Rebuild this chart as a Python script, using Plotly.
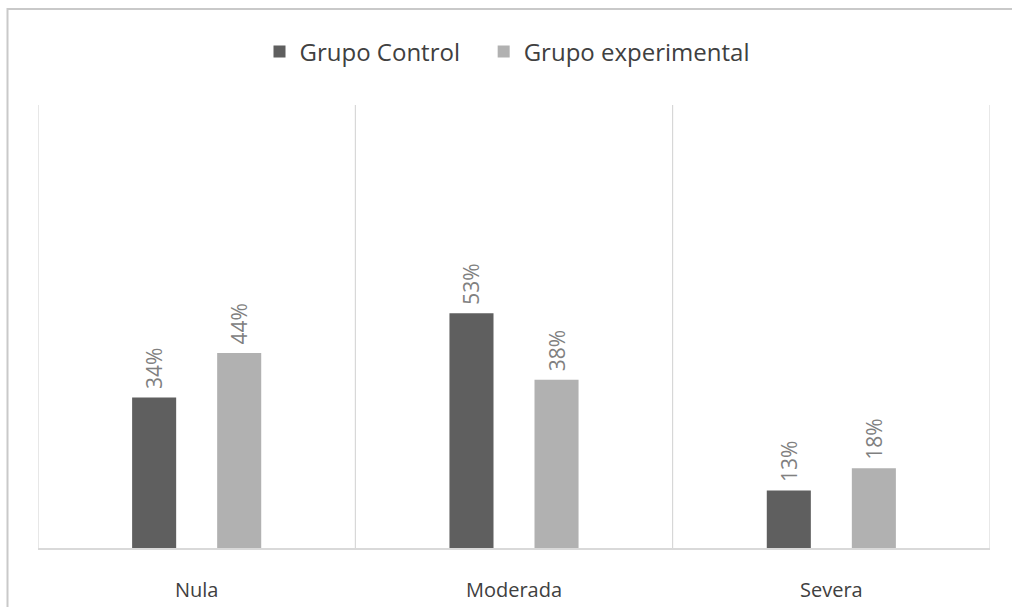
import plotly.graph_objects as go

# Chart data
categories = ["Nula", "Moderada", "Severa"]
grupo_control = [0.34, 0.53, 0.13]
grupo_experimental = [0.44, 0.38, 0.18]
series_names = ["Grupo Control", "Grupo experimental"]

W, H = 1012, 607
margin = dict(l=38, r=22, t=105, b=59)
plot_w = W - margin["l"] - margin["r"]
plot_h = H - margin["t"] - margin["b"]

FONT = "Open Sans"
DARK = "#5f5f5f"
LIGHT = "#b1b1b1"

fig = go.Figure()
for i, (name, vals, color) in enumerate([
    (series_names[0], grupo_control, DARK),
    (series_names[1], grupo_experimental, LIGHT),
]):
    # extra trailing no-break spaces widen the gap between legend entries
    legend_name = name + ("\u00a0" * 3 if i == 0 else "")
    fig.add_trace(go.Bar(
        name=legend_name,
        x=categories,
        y=vals,
        marker=dict(color=color, line=dict(width=0)),
        text=[f"{round(v * 100)}%" for v in vals],
        # leading no-break space lifts the rotated label off the bar top
        texttemplate="\u00a0%{text}",
        textposition="outside",
        textangle=-90,
        constraintext="none",
        cliponaxis=False,
        textfont=dict(family=FONT, size=21, color="#808080"),
    ))

# Vertical separators between categories
shapes = []
for xb in [-0.5, 0.5, 1.5, 2.5]:
    shapes.append(dict(type="line", xref="x", yref="paper", x0=xb, x1=xb,
                       y0=0, y1=1, line=dict(color="#d0d0d0", width=1), layer="below"))

# Outer frame (top and left edges visible)
left_px, top_px = 7.5, 9
px_x = (left_px - margin["l"]) / plot_w
px_y = (H - margin["b"] - top_px) / plot_h
shapes.append(dict(type="rect", xref="paper", yref="paper",
                   x0=px_x, x1=1.2, y0=-0.3, y1=px_y,
                   line=dict(color="#c9c9c9", width=2), fillcolor="rgba(0,0,0,0)"))

fig.update_layout(
    width=W, height=H,
    margin=margin,
    paper_bgcolor="white",
    plot_bgcolor="white",
    barmode="group",
    bargap=0.464,
    bargroupgap=0.482,
    shapes=shapes,
    showlegend=True,
    legend=dict(
        orientation="h",
        x=0.5 - 7 / plot_w, xanchor="center",
        y=(H - margin["b"] - 52) / plot_h, yanchor="middle",
        font=dict(family=FONT, size=24, color="#404040"),
        itemwidth=30,
        traceorder="normal",
    ),
    xaxis=dict(
        type="category",
        range=[-0.5, 2.5],
        automargin=False,
        showgrid=False,
        showline=True,
        linecolor="#d9d9d9",
        linewidth=1.5,
        ticks="",
        ticklabelstandoff=23,
        tickfont=dict(family=FONT, size=20, color="#404040"),
        fixedrange=True,
    ),
    yaxis=dict(
        range=[0, 1.0],
        visible=False,
        automargin=False,
        showgrid=False,
        zeroline=False,
        fixedrange=True,
    ),
)

fig.write_html("out.html")
